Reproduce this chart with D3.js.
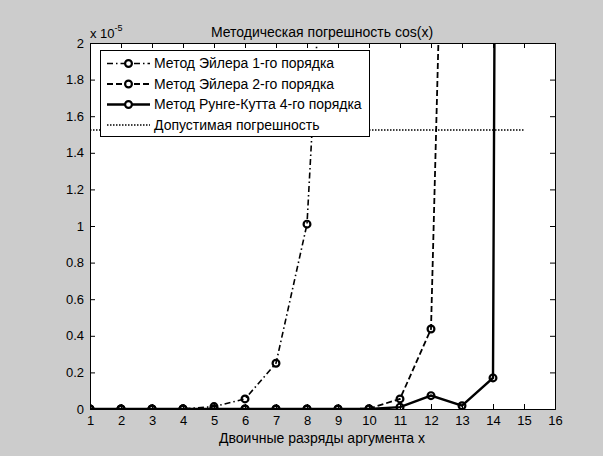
<!DOCTYPE html>
<html>
<head>
<meta charset="utf-8">
<script src="https://cdn.jsdelivr.net/npm/d3@7"></script>
<style>
  body { margin: 0; background: #cccccc; }
  text { font-family: "Liberation Sans", Arial, sans-serif; font-size: 14px; fill: #000; }
</style>
</head>
<body>
<script>
// bits of the argument
var bits = [1, 2, 3, 4, 5, 6, 7, 8, 9, 10, 11, 12, 13, 14, 15];
// errors, units of 1e-5
var euler1 = [0, 0, 0.0002, 0.0008, 0.013, 0.055, 0.25, 1.01, 4.15, 16.6, 66, 265, 1060, 4200, 17000];
var euler2 = [0, 0, 0, 0, 0, 0, 0, 0, 0, 0.002, 0.055, 0.437, 7.0, 110, 1800];
var rk4 = [0, 0, 0, 0, 0, 0, 0, 0, 0, 0, 0.01, 0.073, 0.018, 0.17, 40];
var allowed = 1.525;
var xTicks = d3.range(1, 17);
var yTicks = [0, 0.2, 0.4, 0.6, 0.8, 1, 1.2, 1.4, 1.6, 1.8, 2];
var names = ['Метод Эйлера 1-го порядка', 'Метод Эйлера 2-го порядка',
             'Метод Рунге-Кутта 4-го порядка', 'Допустимая погрешность'];

var W = 603, H = 456;
var mL = 90, mR = 555, mT = 43, mB = 409;

var svg = d3.select('body').append('svg')
    .attr('width', W).attr('height', H);

svg.append('rect').attr('width', W).attr('height', H).attr('fill', '#cccccc');
svg.append('rect').attr('x', mL).attr('y', mT)
    .attr('width', mR - mL).attr('height', mB - mT)
    .attr('fill', '#fff');

var x = d3.scaleLinear().domain([1, 16]).range([mL, mR]);
var y = d3.scaleLinear().domain([0, 2]).range([mB, mT]);

svg.append('defs').append('clipPath').attr('id', 'clip')
    .append('rect').attr('x', mL).attr('y', mT)
    .attr('width', mR - mL).attr('height', mB - mT);

var plot = svg.append('g').attr('clip-path', 'url(#clip)');

var line = d3.line().x(function(d) { return x(d[0]); }).y(function(d) { return y(d[1]); });

var series = [
    { vals: euler1, dash: '6,3,1.5,3', w: 1.6 },
    { vals: euler2, dash: '6,3', w: 1.8 },
    { vals: rk4, dash: null, w: 2.4 }
];

// dotted tolerance line
plot.append('path')
    .attr('d', line([[1, allowed], [15, allowed]]))
    .attr('fill', 'none').attr('stroke', '#000').attr('stroke-width', 1.6)
    .attr('stroke-dasharray', '1.5,1.5');

series.forEach(function(s) {
    var pts = bits.map(function(b, i) { return [b, s.vals[i]]; });
    plot.append('path').attr('d', line(pts))
        .attr('fill', 'none').attr('stroke', '#000')
        .attr('stroke-width', s.w)
        .attr('stroke-dasharray', s.dash);
    plot.selectAll(null).data(pts.filter(function(p) { return p[1] <= 2; }))
        .enter().append('circle')
        .attr('cx', function(d) { return x(d[0]); })
        .attr('cy', function(d) { return y(d[1]); })
        .attr('r', 3.4).attr('fill', 'none').attr('stroke', '#000').attr('stroke-width', 2.2);
});

// axes with inward ticks
var fmt = function(d) { return String(+d.toFixed(1)); };
var gx = svg.append('g').attr('transform', 'translate(0,' + mB + ')')
    .call(d3.axisBottom(x).tickValues(xTicks).tickSize(-5).tickPadding(7).tickFormat(d3.format('d')));
var gy = svg.append('g').attr('transform', 'translate(' + mL + ',0)')
    .call(d3.axisLeft(y).tickValues(yTicks).tickSize(-5).tickPadding(6).tickFormat(fmt));
var gt = svg.append('g').attr('transform', 'translate(0,' + mT + ')')
    .call(d3.axisTop(x).tickValues(xTicks).tickSize(-5).tickFormat(''));
var gr = svg.append('g').attr('transform', 'translate(' + mR + ',0)')
    .call(d3.axisRight(y).tickValues(yTicks).tickSize(-5).tickFormat(''));
[gx, gy, gt, gr].forEach(function(g) {
    g.selectAll('path').attr('stroke', '#000');
    g.selectAll('line').attr('stroke', '#000');
    g.selectAll('text').style('font-family', '"Liberation Sans", Arial, sans-serif')
        .style('font-size', '13px').attr('fill', '#000');
});

// legend
var lg = svg.append('g');
lg.append('rect').attr('x', 100.5).attr('y', 50.5).attr('width', 269).attr('height', 86)
    .attr('fill', '#fff').attr('stroke', '#000');
var legendStyles = [
    { dash: '6,3,1.5,3', w: 1.6, mark: true },
    { dash: '6,3', w: 1.8, mark: true },
    { dash: null, w: 2.4, mark: true },
    { dash: '1.5,1.5', w: 1.6, mark: false }
];
names.forEach(function(n, i) {
    var yy = 63.5 + i * 20.5;
    lg.append('line').attr('x1', 107).attr('x2', 150).attr('y1', yy).attr('y2', yy)
        .attr('stroke', '#000').attr('stroke-width', legendStyles[i].w)
        .attr('stroke-dasharray', legendStyles[i].dash);
    if (legendStyles[i].mark) {
        lg.append('circle').attr('cx', 128.5).attr('cy', yy).attr('r', 3.4)
            .attr('fill', '#fff').attr('stroke', '#000').attr('stroke-width', 2.2);
    }
    lg.append('text').attr('x', 154).attr('y', yy).attr('dy', '0.35em')
        .style('font-size', '14px').text(n);
});

// title, labels, exponent
svg.append('text').attr('x', 322).attr('y', 37)
    .attr('text-anchor', 'middle').text('Методическая погрешность cos(x)');
svg.append('text').attr('x', 322).attr('y', 443)
    .attr('text-anchor', 'middle').text('Двоичные разряды аргумента x');
var ex = svg.append('text').attr('x', 90).attr('y', 38).style('font-size', '13px');
ex.append('tspan').text('x 10');
ex.append('tspan').attr('dy', -7).style('font-size', '9px').text('-5');
</script>
</body>
</html>
